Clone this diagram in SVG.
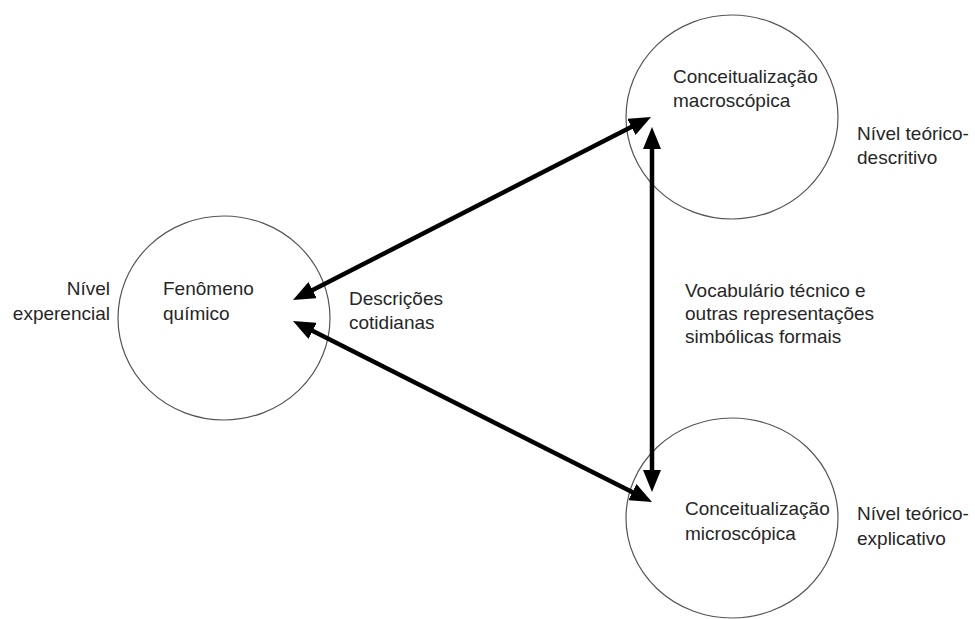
<svg xmlns="http://www.w3.org/2000/svg" width="975" height="619" viewBox="0 0 975 619">
<style>
.node{fill:none;stroke:#555;stroke-width:1.2}
.t{font-family:"Liberation Sans",Arial,sans-serif;font-size:19px;fill:#262626}
.e{text-anchor:end}
.c{fill:none;stroke:#000;stroke-width:4.5;marker-start:url(#ah);marker-end:url(#ah)}
</style>
<defs>
<marker id="ah" markerUnits="userSpaceOnUse" markerWidth="22" markerHeight="18" viewBox="0 0 22 18" refX="13" refY="9" orient="auto-start-reverse">
<path d="M0,0 L22,9 L0,18 z" fill="#000"/>
</marker>
</defs>
<rect width="975" height="619" fill="#fff"/>
<g id="fenomeno">
<ellipse class="node" cx="224" cy="318" rx="106" ry="102"/>
<text class="t" x="163" y="295">Fenômeno</text>
<text class="t" x="163" y="320">químico</text>
</g>
<g id="nivel-experencial">
<text class="t e" x="110" y="295">Nível</text>
<text class="t e" x="110" y="320">experencial</text>
</g>
<g id="macro">
<ellipse class="node" cx="732" cy="117" rx="106" ry="102"/>
<text class="t" x="673" y="83">Conceitualização</text>
<text class="t" x="673" y="107">macroscópica</text>
</g>
<g id="nivel-descritivo">
<text class="t" x="857" y="140">Nível teórico-</text>
<text class="t" x="857" y="164">descritivo</text>
</g>
<g id="micro">
<ellipse class="node" cx="732" cy="518" rx="106" ry="100"/>
<text class="t" x="685" y="515">Conceitualização</text>
<text class="t" x="685" y="540">microscópica</text>
</g>
<g id="nivel-explicativo">
<text class="t" x="857" y="520">Nível teórico-</text>
<text class="t" x="857" y="545">explicativo</text>
</g>
<g id="descricoes">
<text class="t" x="349" y="305">Descrições</text>
<text class="t" x="349" y="329">cotidianas</text>
</g>
<g id="vocabulario">
<text class="t" x="685" y="297">Vocabulário técnico e</text>
<text class="t" x="685" y="320">outras representações</text>
<text class="t" x="685" y="343">simbólicas formais</text>
</g>
<g id="connectors">
<line class="c" x1="301" y1="296" x2="643" y2="121"/>
<line class="c" x1="301" y1="325" x2="644" y2="498"/>
<line class="c" x1="652" y1="136" x2="652" y2="483"/>
</g>
</svg>
